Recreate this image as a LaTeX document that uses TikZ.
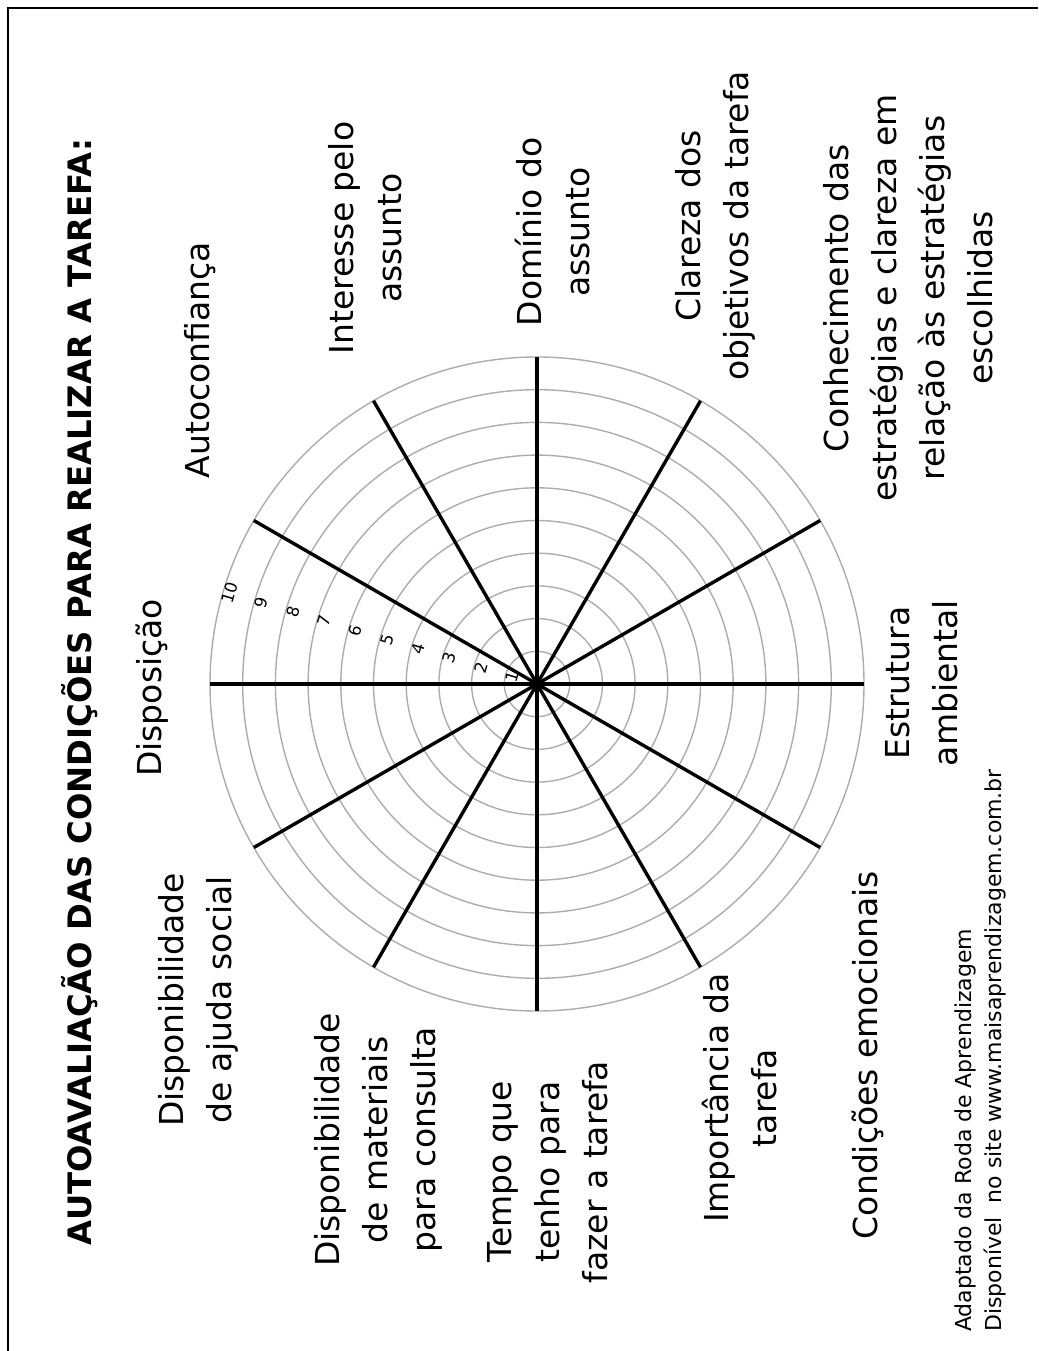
\documentclass[tikz,border=0pt]{standalone}
\usepackage{fontspec}
\setmainfont{DejaVu Sans}

\begin{document}
\begin{tikzpicture}[x=1pt, y=-1pt,
    ring/.style={gray!65, line width=1.4pt},
    spoke/.style={black, line width=3.4pt},
    lbl/.style={rotate=90, align=center, inner sep=0pt, font=\fontsize{33}{48}\selectfont},
    num/.style={rotate=73.5, inner sep=0pt, font=\fontsize{16.5}{16.5}\selectfont}]
    \useasboundingbox (0,0) rectangle (1038,1351);

    % frame (only left and top edges are in view)
    \draw[line width=2pt] (8,1351) -- (8,8) -- (1038,8);

    % the wheel
    \begin{scope}[shift={(537,684)}]
        \foreach \r in {1,...,10}
            \draw[ring] (0,0) circle[radius=32.7*\r];
        \foreach \a in {0,30,...,150}
            \draw[spoke] (\a:327) -- (\a+180:327);
        \foreach \k in {1,...,10}
            \node[num] (n\k) at (196.5:32.7*\k-7) {\k};
    \end{scope}

    % title
    \node[rotate=90, inner sep=0pt, font=\fontsize{32.3}{32.3}\selectfont\bfseries] (title) at (80,692)
        {AUTOAVALIAÇÃO DAS CONDIÇÕES PARA REALIZAR A TAREFA:};

    % labels round the wheel
    \node[lbl] (disposicao) at (152,688) {Disposição};
    \node[lbl] (autoconf) at (200,360) {Autoconfiança};
    \node[lbl] (interesse) at (365,238) {Interesse pelo\\assunto};
    \node[lbl] (dominio) at (553,232) {Domínio do\\assunto};
    \node[lbl] (clareza) at (715,226) {Clareza dos\\objetivos da tarefa};
    \node[lbl] (conhec) at (908,298) {Conhecimento das\\estratégias e clareza em\\relação às estratégias\\escolhidas};
    \node[lbl] (estrutura) at (922,683) {Estrutura\\ambiental};
    \node[lbl] (emocoes) at (868,1055) {Condições emocionais};
    \node[lbl] (importancia) at (740,1098) {Importância da\\tarefa};
    \node[lbl] (tempo) at (548,1172) {Tempo que\\tenho para\\fazer a tarefa};
    \node[lbl] (materiais) at (378,1140) {Disponibilidade\\de materiais\\para consulta};
    \node[lbl] (ajuda) at (198,1000) {Disponibilidade\\de ajuda social};

    % source
    \node[rotate=90, anchor=west, align=left, inner sep=0pt, font=\fontsize{22}{30}\selectfont] (fonte) at (980,1332)
        {Adaptado da Roda de Aprendizagem\\Disponível\ \ no site www.maisaprendizagem.com.br};
\end{tikzpicture}
\end{document}
